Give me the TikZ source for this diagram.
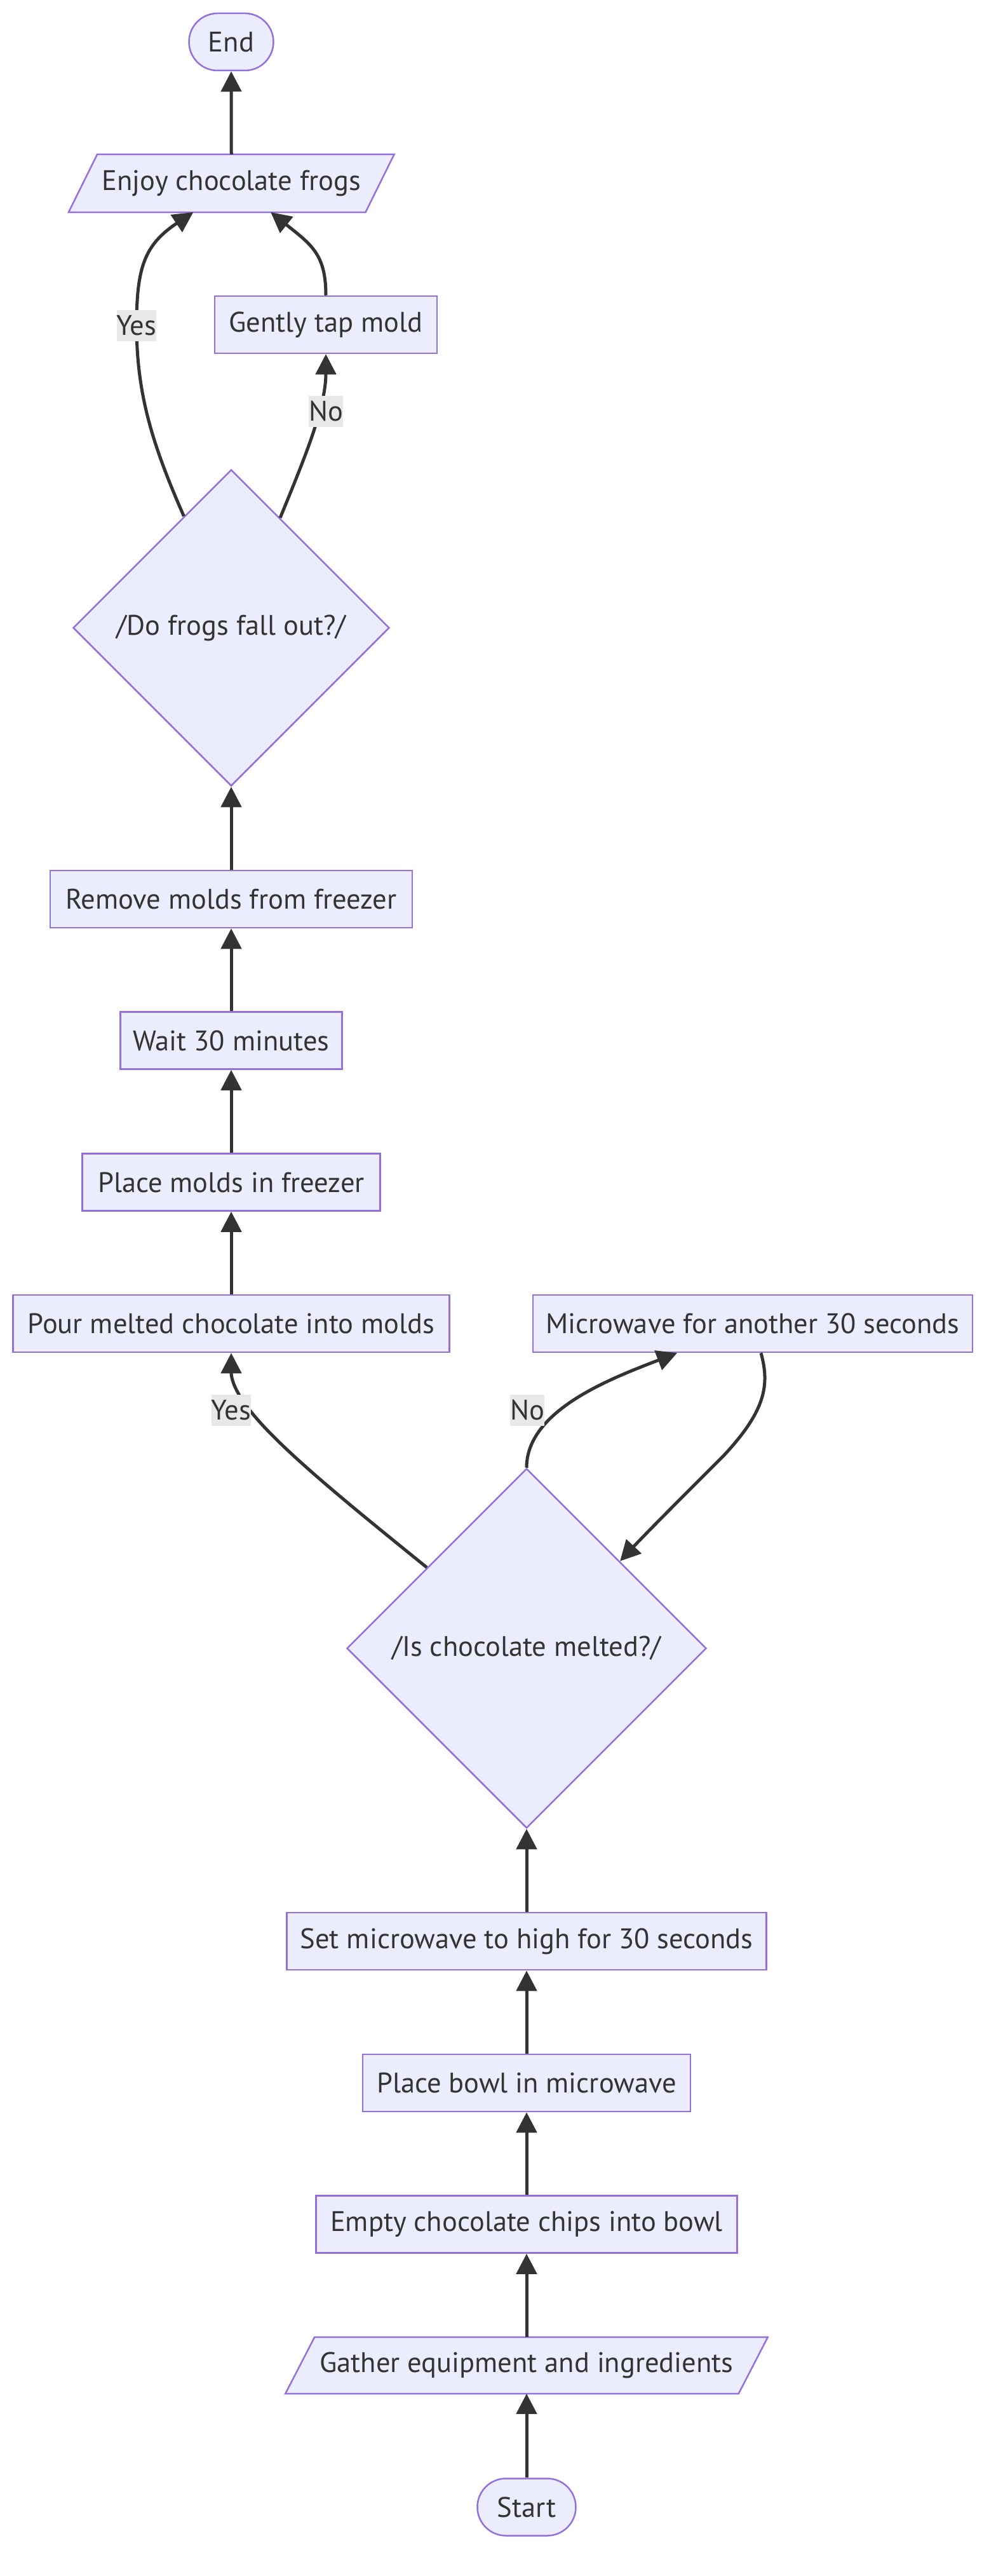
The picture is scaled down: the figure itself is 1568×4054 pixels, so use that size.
\documentclass[tikz,border=0pt]{standalone}
\usepackage{fontspec}
\setmainfont{PT Sans}
\usetikzlibrary{shapes.geometric,arrows.meta,calc}
\definecolor{nodefill}{HTML}{ECECFF}
\definecolor{nodedraw}{HTML}{9370DB}
\definecolor{ink}{HTML}{333333}
\definecolor{lblbg}{HTML}{E8E8E8}
\pgfdeclarelayer{bg}
\pgfsetlayers{bg,main}
\newcommand\drawpara[2]{\filldraw[fill=nodefill,draw=nodedraw,line width=2.5pt]
  ($(#1.north west)+(#2,0)$) -- ($(#1.north east)+(#2,0)$) --
  ($(#1.south east)+(-#2,0)$) -- ($(#1.south west)+(-#2,0)$) -- cycle;}
\begin{document}
\begin{tikzpicture}[x=1pt,y=-1pt,
  txt/.style={text=ink,font=\fontsize{44.5}{53}\selectfont},
  base/.style={txt,fill=nodefill,draw=nodedraw,line width=2.5pt,inner sep=0pt,minimum height=90pt},
  proc/.style={base,rectangle},
  term/.style={base,rectangle,rounded corners=45pt},
  io/.style={txt,rectangle,inner sep=0pt,outer sep=0pt,minimum height=90pt},
  decision/.style={base,diamond,aspect=1},
  lbl/.style={txt,fill=lblbg,inner xsep=0pt,inner ysep=0pt,minimum height=49pt},
  edge/.style={draw=ink,line width=5pt,-{Triangle[length=32pt,width=32pt]}}
]
\begin{pgfonlayer}{bg}
\fill[white] (0,0) rectangle (1568,4054);
\end{pgfonlayer}
\useasboundingbox (0,0) rectangle (1568,4054);

% nodes
\node[term,minimum width=133pt] (endn) at (364,66) {End};
\node[io,minimum width=467.5pt,minimum height=91pt] (enjoy) at (364.25,288.5) {Enjoy chocolate frogs};
\node[proc,minimum width=350pt] (gently) at (513,511) {Gently tap mold};
\node[decision,minimum width=498pt,minimum height=498pt] (d1) at (364,988) {/Do frogs fall out?/};
\node[proc,minimum width=570pt] (remove) at (364,1415) {Remove molds from freezer};
\node[proc,minimum width=349pt] (wait) at (364,1637.5) {Wait 30 minutes};
\node[proc,minimum width=469pt] (molds) at (364,1860.5) {Place molds in freezer};
\node[proc,minimum width=687pt] (pour) at (364,2083) {Pour melted chocolate into molds};
\node[proc,minimum width=692pt] (micro) at (1185,2083) {Microwave for another 30 seconds};
\node[decision,minimum width=566pt,minimum height=566pt] (d2) at (829,2594) {/Is chocolate melted?/};
\node[proc,minimum width=755pt] (setmw) at (829,3055) {Set microwave to high for 30 seconds};
\node[proc,minimum width=516pt] (bowl) at (829,3278) {Place bowl in microwave};
\node[proc,minimum width=663pt] (empty) at (829,3500.5) {Empty chocolate chips into bowl};
\node[io,minimum width=713.5pt,minimum height=89pt] (gather) at (829,3722.5) {Gather equipment and ingredients};
\node[term,minimum width=155pt] (start) at (829,3945.5) {Start};

\begin{pgfonlayer}{bg}
\drawpara{enjoy}{22.5}
\drawpara{gather}{23}
\end{pgfonlayer}

% straight connectors
\draw[edge] (start.north) -- (gather.south);
\draw[edge] (gather.north) -- (empty.south);
\draw[edge] (empty.north) -- (bowl.south);
\draw[edge] (bowl.north) -- (setmw.south);
\draw[edge] (setmw.north) -- (d2.south);
\draw[edge] (pour.north) -- (molds.south);
\draw[edge] (molds.north) -- (wait.south);
\draw[edge] (wait.north) -- (remove.south);
\draw[edge] (remove.north) -- (d1.south);
\draw[edge] (enjoy.north) -- (endn.south);

% curved connectors
\draw[edge] (d2.141) .. controls (560,2376) and (440,2280) .. (393,2219)
  .. controls (370,2190) and (364,2170) .. (pour.south);
\draw[edge] (d2.north) .. controls (829,2220) and (960,2170) .. ($(micro.south)+(-119,0)$);
\draw[edge] ($(micro.south)+(13,0)$) .. controls (1212,2180) and (1205,2220) .. (1140,2290)
  .. controls (1080,2350) and (1020,2410) .. (d2.43);
\draw[edge] (d1.113) .. controls (240,700) and (215,620) .. (215,512)
  .. controls (215,420) and (228,385) .. ($(enjoy.south)+(-60,0)$);
\draw[edge] (d1.66) .. controls (480,720) and (513,640) .. (gently.south);
\draw[edge] (gently.north) .. controls (513,400) and (490,385) .. ($(enjoy.south)+(62,0)$);

% edge labels
\node[lbl] (lyes1) at (215,512) {Yes};
\node[lbl] (lno1) at (513,647) {No};
\node[lbl] (lyes2) at (364,2219) {Yes};
\node[lbl] (lno2) at (830,2219) {No};
\end{tikzpicture}
\end{document}
